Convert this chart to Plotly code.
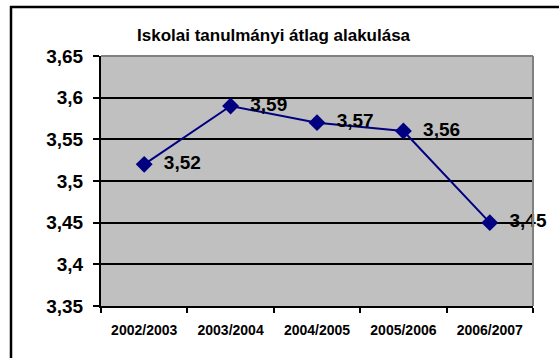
import plotly.graph_objects as go

# School years and average grades
years = ["2002/2003", "2003/2004", "2004/2005", "2005/2006", "2006/2007"]
averages = [3.52, 3.59, 3.57, 3.56, 3.45]

y_ticks = [3.35, 3.40, 3.45, 3.50, 3.55, 3.60, 3.65]
y_tick_labels = ["3,35", "3,4", "3,45", "3,5", "3,55", "3,6", "3,65"]

title_text = "Iskolai tanulmányi átlag alakulása"

FONT = "Liberation Sans, Arial, sans-serif"
W, H = 559, 358
ML, MR, MT, MB = 101, 26, 56, 52
pw = W - ML - MR
ph = H - MT - MB


def px_x(x):
    return (x - ML) / pw


def px_y(y):
    return (H - MB - y) / ph


labels = ["  " + f"{v:.2f}".replace(".", ",") for v in averages]

fig = go.Figure(
    go.Scatter(
        x=years,
        y=averages,
        mode="lines+markers+text",
        line=dict(color="#000080", width=2),
        marker=dict(symbol="diamond", size=13, color="#000080"),
        text=labels,
        textposition="middle right",
        textfont=dict(family=FONT, size=19, color="black", weight="bold"),
        cliponaxis=False,
        hoverinfo="skip",
    )
)

fig.update_layout(
    width=W,
    height=H,
    margin=dict(l=ML, r=MR, t=MT, b=MB),
    paper_bgcolor="white",
    plot_bgcolor="#c0c0c0",
    showlegend=False,
    font=dict(family=FONT, color="black"),
)

fig.update_xaxes(
    type="category",
    range=[-0.5, 4.5],
    showgrid=False,
    showline=True,
    linecolor="black",
    linewidth=2,
    ticks="outside",
    tickson="boundaries",
    ticklen=5,
    tickwidth=2,
    tickcolor="black",
    ticklabelstandoff=10,
    tickfont=dict(family=FONT, size=14, color="black", weight="bold"),
    fixedrange=True,
)

fig.update_yaxes(
    range=[3.35, 3.65],
    tickvals=y_ticks,
    ticktext=y_tick_labels,
    showgrid=True,
    gridcolor="black",
    gridwidth=2,
    showline=True,
    linecolor="black",
    linewidth=2,
    ticks="outside",
    ticklen=6,
    tickwidth=2,
    tickcolor="black",
    ticklabelstandoff=6,
    tickfont=dict(family=FONT, size=19, color="black", weight="bold"),
    zeroline=False,
    fixedrange=True,
)

# grey frame on the top and right of the plot area
fig.add_shape(type="line", xref="paper", yref="paper", x0=0, x1=1, y0=1, y1=1,
              line=dict(color="#808080", width=2))
fig.add_shape(type="line", xref="paper", yref="paper", x0=1, x1=1, y0=0, y1=1,
              line=dict(color="#808080", width=2))

# outer chart border (left and top edges)
fig.add_shape(type="line", xref="paper", yref="paper",
              x0=px_x(11), x1=px_x(11), y0=px_y(6), y1=px_y(H + 5),
              line=dict(color="black", width=2.5))
fig.add_shape(type="line", xref="paper", yref="paper",
              x0=px_x(10), x1=px_x(W + 5), y0=px_y(7), y1=px_y(7),
              line=dict(color="black", width=2.5))

fig.add_annotation(
    text=title_text,
    xref="paper", yref="paper",
    x=px_x(274), y=px_y(36),
    xanchor="center", yanchor="middle",
    showarrow=False,
    font=dict(family=FONT, size=17, color="black", weight="bold"),
)

fig.write_html("out.html")
